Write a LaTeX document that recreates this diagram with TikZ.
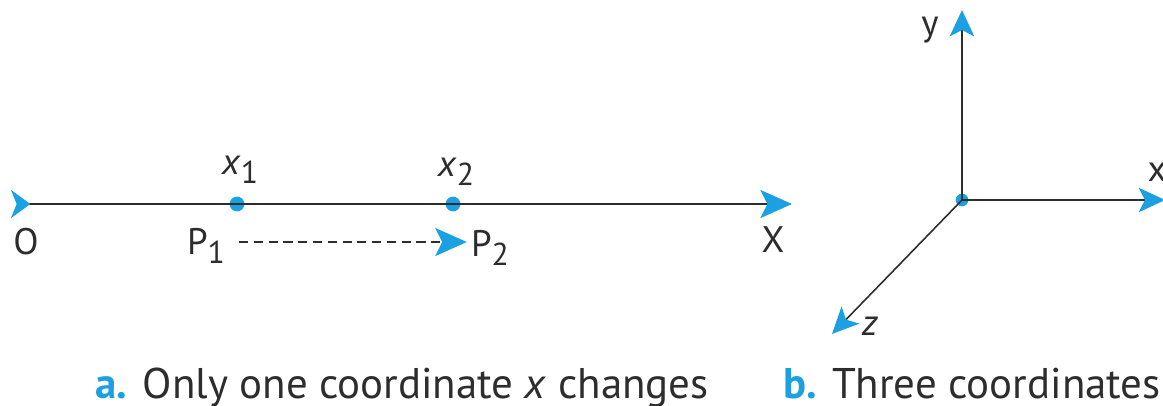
\documentclass[tikz,border=0pt]{standalone}
\usepackage{fontspec}
\setmainfont{PT Sans}
\usepackage{xcolor}
\usetikzlibrary{arrows.meta}

\definecolor{tipblue}{RGB}{27,161,226}
\definecolor{linegray}{RGB}{45,45,45}
\newcommand{\lowidx}[1]{\raisebox{-0.5ex}{\fontsize{9}{10}\selectfont #1}}

\begin{document}
\begin{tikzpicture}[
  x=0.01cm, y=-0.01cm,
  axisline/.style={draw=linegray, line width=0.45pt},
  bigtip/.style={-{Stealth[length=9pt, width=8pt, inset=2pt, color=tipblue]}},
  smalltip/.style={-{Stealth[length=7.5pt, width=7pt, inset=1.8pt, color=tipblue]}},
  dotpt/.style={circle, fill=tipblue, inner sep=0pt, minimum size=4.2pt},
  lbl/.style={inner sep=1pt, font=\fontsize{10.5}{12}\selectfont, text=linegray},
  captext/.style={inner sep=0pt, anchor=base west, font=\fontsize{12.2}{14}\selectfont, text=linegray}
]
\useasboundingbox (0,0) rectangle (1163,405);

% a. one axis
\coordinate (tail) at (11,204);
\coordinate (xtip) at (792,204);
\node[dotpt] (d1) at (237,204) {};
\node[dotpt] (d2) at (453,204) {};
\draw[axisline, {Stealth[reversed, length=5.5pt, width=8pt, inset=1.6pt, color=tipblue]}-{Stealth[length=9pt, width=8pt, inset=2pt, color=tipblue]}]
  (tail) -- (xtip);
\node[lbl] (x1) at (240,170) {\textit{x}\lowidx{1}};
\node[lbl] (x2) at (456,172) {\textit{x}\lowidx{2}};
\node[lbl] (o) at (26,242) {O};
\node[lbl] (bigx) at (773,240) {X};
\node[lbl] (p1) at (206,246) {P\lowidx{1}};
\node[lbl] (p2) at (490,248) {P\lowidx{2}};
\draw[axisline, dash pattern=on 2.6pt off 1.6pt, bigtip] (p1.east) ++(10,-4) coordinate (pa) (pa) -- (p2.west |- pa);

% b. three axes
\node[dotpt, minimum size=3.6pt] (orig) at (962,200) {};
\coordinate (ytip) at (962,10);
\coordinate (xtip3) at (1165,200);
\coordinate (ztip) at (832,334);
\draw[axisline, smalltip] (orig.center) -- (ytip);
\draw[axisline, smalltip] (orig.center) -- (xtip3);
\draw[axisline, smalltip] (orig.center) -- (ztip);
\node[lbl] (ylab) at (930,30) {y};
\node[lbl] (xlab) at (1157,172) {x};
\node[lbl] (zlab) at (870,326) {\textit{z}};

% captions
\node[captext] (capa) at (95,398) {\textcolor{tipblue}{\textbf{a.}} Only one coordinate \textit{x} changes};
\node[captext] (capb) at (783,398) {\textcolor{tipblue}{\textbf{b.}} Three coordinates};
\end{tikzpicture}
\end{document}
